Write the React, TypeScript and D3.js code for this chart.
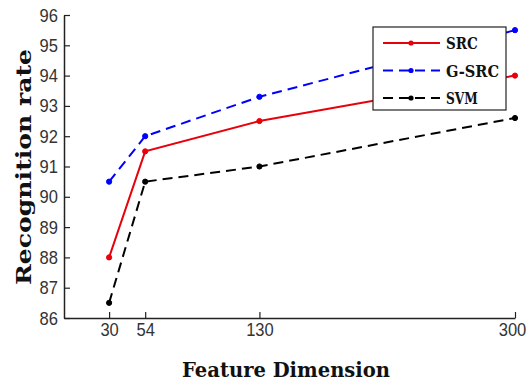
import { useEffect, useRef } from "react"
import * as d3 from "d3"

const dims = [30, 54, 130, 300]
const srcRate = [88, 91.5, 92.5, 94]
const gsrcRate = [90.5, 92, 93.3, 95.5]
const svmRate = [86.5, 90.5, 91, 92.6]
const yTicks = [86, 87, 88, 89, 90, 91, 92, 93, 94, 95, 96]
const seriesNames = ["SRC", "G-SRC", "SVM"]

export default function App() {
  const ref = useRef<SVGSVGElement>(null)

  useEffect(() => {
    if (!ref.current) return
    const svg = d3.select(ref.current)
    svg.selectAll("*").remove()

    const x = d3.scaleLinear().domain([0, 300]).range([64, 515])
    const y = d3.scaleLinear().domain([86, 96]).range([318, 15])

    const series = [
      { name: seriesNames[0], values: srcRate, color: "#e8000b", dash: "" },
      { name: seriesNames[1], values: gsrcRate, color: "#0000ff", dash: "10,6" },
      { name: seriesNames[2], values: svmRate, color: "#000000", dash: "10,6" },
    ]

    svg.append("rect").attr("width", 530).attr("height", 387).attr("fill", "#fff")

    // axes
    const tickFont = "'Liberation Sans', Arial, sans-serif"
    const xAxis = svg
      .append("g")
      .attr("transform", `translate(0,${y(86)})`)
      .call(d3.axisBottom(x).tickValues(dims).tickSize(-6).tickPadding(5).tickSizeOuter(0))
    const yAxis = svg
      .append("g")
      .attr("transform", `translate(${x(0)},0)`)
      .call(d3.axisLeft(y).tickValues(yTicks).tickSize(-6).tickPadding(6).tickSizeOuter(0))
    ;[xAxis, yAxis].forEach((g) => {
      g.select(".domain").attr("stroke", "#222").attr("stroke-width", 1.5)
      g.selectAll(".tick line").attr("stroke", "#222").attr("stroke-width", 1.2)
      g.selectAll<SVGTextElement, number>(".tick text")
        .attr("fill", "#333")
        .attr("textLength", (d) => String(d).length * 9.2)
        .attr("lengthAdjust", "spacingAndGlyphs")
        .style("font-family", tickFont)
        .style("font-size", "19px")
    })
    // last x label sits against the right edge, as in the original
    xAxis
      .selectAll<SVGTextElement, number>(".tick text")
      .filter((d) => d === 300)
      .attr("dx", -3)

    const line = d3
      .line<number>()
      .x((_, i) => x(dims[i]))
      .y((d) => y(d))

    series.forEach((s) => {
      svg
        .append("path")
        .datum(s.values)
        .attr("d", line)
        .attr("fill", "none")
        .attr("stroke", s.color)
        .attr("stroke-width", 2)
        .attr("stroke-dasharray", s.dash)
      svg
        .append("g")
        .selectAll("circle")
        .data(s.values)
        .join("circle")
        .attr("cx", (_, i) => x(dims[i]))
        .attr("cy", (d) => y(d))
        .attr("r", 2.6)
        .attr("fill", s.color)
        .attr("stroke", s.color)
    })

    // legend
    const labelFont = "'DejaVu Serif', 'Liberation Serif', serif"
    const lg = svg.append("g")
    lg.append("rect")
      .attr("x", 373)
      .attr("y", 27)
      .attr("width", 133)
      .attr("height", 83)
      .attr("fill", "#fff")
      .attr("stroke", "#222")
      .attr("stroke-width", 1.2)
    series.forEach((s, i) => {
      const ly = 43 + i * 27.5
      lg.append("line")
        .attr("x1", 383)
        .attr("x2", 440)
        .attr("y1", ly)
        .attr("y2", ly)
        .attr("stroke", s.color)
        .attr("stroke-width", 2)
        .attr("stroke-dasharray", s.dash)
      lg.append("circle").attr("cx", 411).attr("cy", ly).attr("r", 2.6).attr("fill", s.color)
      lg.append("text")
        .attr("x", 446)
        .attr("y", ly + 6)
        .attr("textLength", s.name.length * 10.6)
        .attr("lengthAdjust", "spacingAndGlyphs")
        .text(s.name)
        .style("font-family", labelFont)
        .style("font-weight", "bold")
        .style("font-size", "17px")
        .attr("fill", "#111")
    })

    // axis titles
    svg
      .append("text")
      .attr("x", 286)
      .attr("y", 377)
      .attr("text-anchor", "middle")
      .attr("textLength", 208)
      .attr("lengthAdjust", "spacingAndGlyphs")
      .text("Feature Dimension")
      .style("font-family", labelFont)
      .style("font-weight", "bold")
      .style("font-size", "20px")
      .attr("fill", "#111")
    svg
      .append("text")
      .attr("transform", "translate(31,167) rotate(-90)")
      .attr("text-anchor", "middle")
      .attr("textLength", 236)
      .attr("lengthAdjust", "spacingAndGlyphs")
      .text("Recognition rate")
      .style("font-family", labelFont)
      .style("font-weight", "bold")
      .style("font-size", "21px")
      .attr("fill", "#111")
  }, [])

  return (
    <svg
      ref={ref}
      width={530}
      height={387}
      style={{ position: "absolute", left: 0, top: 0, display: "block" }}
    />
  )
}
